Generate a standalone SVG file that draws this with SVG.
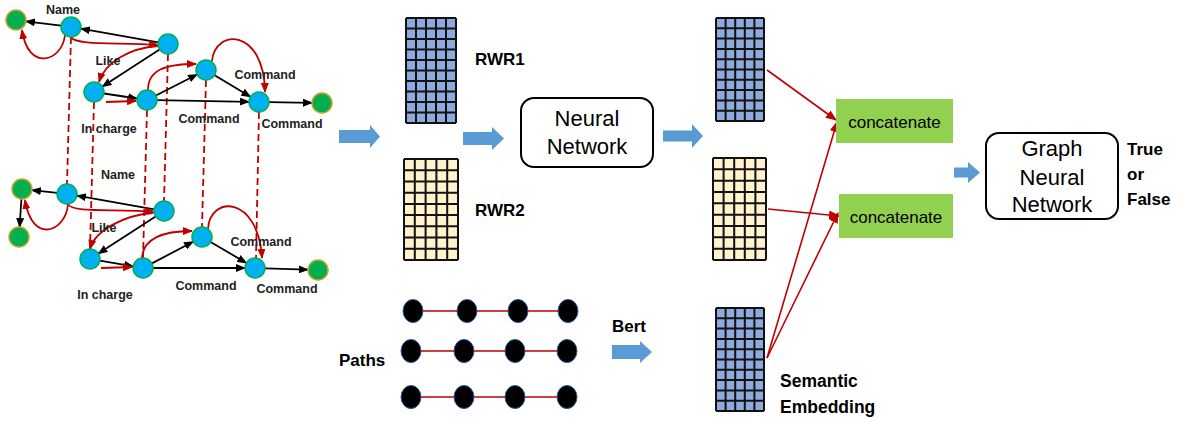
<svg xmlns="http://www.w3.org/2000/svg" xmlns:xlink="http://www.w3.org/1999/xlink" width="1178" height="422" viewBox="0 0 1178 422">
<style>
.bn{fill:#00B0F0;stroke:#00B050;stroke-width:1.5}
.gn{fill:#00B050;stroke:#C9A227;stroke-width:1.5}
.ke{stroke:#000;stroke-width:1.8;fill:none;marker-end:url(#ak)}
.re{stroke:#C00000;stroke-width:1.8;fill:none;marker-end:url(#ar)}
.rd{stroke:#C00000;stroke-width:1.8;fill:none;stroke-dasharray:7 4}
.rl{stroke:#C00000;stroke-width:1.6;fill:none}
.lb{font-family:"Liberation Sans",Arial,sans-serif;font-weight:bold;font-size:12.5px;fill:#222}
.bl{font-family:"Liberation Sans",Arial,sans-serif;font-weight:bold;font-size:17px;fill:#000}
.rg{font-family:"Liberation Sans",Arial,sans-serif;font-size:22px;fill:#000;text-anchor:middle}
.cc{font-family:"Liberation Sans",Arial,sans-serif;font-size:17px;fill:#000;text-anchor:middle}
.ba{fill:#5B9BD5}
.pn{fill:#000;stroke:#2F5597;stroke-width:1}
.box{fill:#fff;stroke:#000;stroke-width:2}
.cat{fill:#92D050}
.ra{stroke:#C00000;stroke-width:1.6;fill:none;marker-end:url(#ar2)}
</style>
<defs>
<marker id="ak" markerUnits="userSpaceOnUse" markerWidth="10" markerHeight="8" refX="9" refY="4" orient="auto"><path d="M0,0 L10,4 L0,8 Z" fill="#000"/></marker>
<marker id="ar" markerUnits="userSpaceOnUse" markerWidth="10" markerHeight="8" refX="9" refY="4" orient="auto"><path d="M0,0 L10,4 L0,8 Z" fill="#C00000"/></marker>
<marker id="ar2" markerUnits="userSpaceOnUse" markerWidth="11" markerHeight="9" refX="10" refY="4.5" orient="auto"><path d="M0,0 L11,4.5 L0,9 Z" fill="#C00000"/></marker>
<symbol id="gB" viewBox="0 0 50 100" preserveAspectRatio="none" overflow="visible">
<rect x="0" y="0" width="50" height="100" fill="#8EA9DB"/>
<path d="M0,0H50M0,10H50M0,20H50M0,30H50M0,40H50M0,50H50M0,60H50M0,70H50M0,80H50M0,90H50M0,100H50M0,0V100M10,0V100M20,0V100M30,0V100M40,0V100M50,0V100" stroke="#111" stroke-width="2" vector-effect="non-scaling-stroke" fill="none"/>
</symbol>
<symbol id="gY" viewBox="0 0 50 90" preserveAspectRatio="none" overflow="visible">
<rect x="0" y="0" width="50" height="90" fill="#FFF2CC"/>
<path d="M0,0H50M0,10H50M0,20H50M0,30H50M0,40H50M0,50H50M0,60H50M0,70H50M0,80H50M0,90H50M0,0V90M10,0V90M20,0V90M30,0V90M40,0V90M50,0V90" stroke="#111" stroke-width="2" vector-effect="non-scaling-stroke" fill="none"/>
</symbol>
</defs>
<rect width="1178" height="422" fill="#fff"/>

<g id="connectors">
<path class="rd" d="M71,37 L67,184"/>
<path class="rd" d="M94,102 L90,249"/>
<path class="rd" d="M147,110 L143,258"/>
<path class="rd" d="M168,54 L164,201"/>
<path class="rd" d="M206,80 L202,227"/>
<path class="rd" d="M259,112 L256,258"/>
<path class="ke" d="M61.1,25.7 L25.9,21.3"/>
<path class="ke" d="M158.2,42.3 L80.9,28.7"/>
<path class="ke" d="M159.6,49.4 L102.4,86.6"/>
<path class="ke" d="M103.9,93.5 L137.1,98.5"/>
<path class="ke" d="M155.9,95.5 L197.1,74.5"/>
<path class="ke" d="M214.6,75.2 L250.4,96.8"/>
<path class="ke" d="M157,100.2 L249,101.8"/>
<path class="ke" d="M269,102.2 L312,102.8"/>
<path class="re" d="M71,37 C76,46 120,42 158,45"/>
<path class="re" d="M65,35 C62,62 28,72 22,30"/>
<path class="re" d="M158,46 C130,48 105,62 99,82"/>
<path class="re" d="M106,102 L136,101"/>
<path class="re" d="M148,90 C148,70 165,64 196,64"/>
<path class="re" d="M212,61 C215,28 264,28 265,92"/>
<path class="ke" d="M57.1,192.9 L31.9,190.1"/>
<path class="ke" d="M21.4,199 L19.6,227"/>
<path class="ke" d="M154.2,209.3 L76.9,195.7"/>
<path class="ke" d="M155.6,216.4 L98.4,253.6"/>
<path class="ke" d="M99.9,260.7 L133.1,266.3"/>
<path class="ke" d="M151.9,263.4 L193.1,241.7"/>
<path class="ke" d="M210.6,242 L246.4,263"/>
<path class="ke" d="M153,268 L245,268"/>
<path class="ke" d="M265,268.3 L308,269.7"/>
<path class="re" d="M68,204 C72,214 120,208 154,212"/>
<path class="re" d="M68,204 C66,232 32,245 25,200"/>
<path class="re" d="M153,213 C125,215 95,230 90,249"/>
<path class="re" d="M101,268 L132,267"/>
<path class="re" d="M142,258 C143,240 160,231 192,231"/>
<path class="re" d="M208,229 C210,195 258,195 262,258"/>
<path class="ba" d="M339,130 L370,130 L370,125 L380,136.5 L370,148 L370,143 L339,143 Z"/>
<path class="ba" d="M463,132 L492,132 L492,127 L504,138.5 L492,150 L492,145 L463,145 Z"/>
<path class="ba" d="M663,130.5 L692,130.5 L692,124 L703,136 L692,148 L692,141.5 L663,141.5 Z"/>
<path class="ba" d="M954,167.5 L968,167.5 L968,162 L980,172.5 L968,183 L968,177.5 L954,177.5 Z"/>
<path class="ba" d="M612,345 L640,345 L640,341 L652,352 L640,363 L640,359 L612,359 Z"/>
<path class="rl" d="M413,311 L568,311"/>
<path class="rl" d="M411,351 L567,351"/>
<path class="rl" d="M411,397 L567,397"/>
<path class="ra" d="M767,70 L836,120"/>
<path class="ra" d="M768,209 L839,216"/>
<path class="ra" d="M767,358 L837,122"/>
<path class="ra" d="M767,358 L838,213"/>
</g>

<g id="graph-top">
<circle class="gn" cx="16" cy="20" r="10"/>
<circle class="bn" cx="71" cy="27" r="10"/>
<circle class="bn" cx="168" cy="44" r="10"/>
<circle class="bn" cx="94" cy="92" r="10"/>
<circle class="bn" cx="147" cy="100" r="10"/>
<circle class="bn" cx="206" cy="70" r="10"/>
<circle class="bn" cx="259" cy="102" r="10"/>
<circle class="gn" cx="322" cy="103" r="10"/>
<text class="lb" x="63" y="13.5" text-anchor="middle">Name</text>
<text class="lb" x="108" y="64.5" text-anchor="middle">Like</text>
<text class="lb" x="265" y="78.5" text-anchor="middle">Command</text>
<text class="lb" x="109" y="132.5" text-anchor="middle">In charge</text>
<text class="lb" x="209" y="122.5" text-anchor="middle">Command</text>
<text class="lb" x="292" y="127.5" text-anchor="middle">Command</text>
</g>

<g id="graph-bottom">
<circle class="gn" cx="22" cy="189" r="10"/>
<circle class="gn" cx="19" cy="237" r="10"/>
<circle class="bn" cx="67" cy="194" r="10"/>
<circle class="bn" cx="164" cy="211" r="10"/>
<circle class="bn" cx="90" cy="259" r="10"/>
<circle class="bn" cx="143" cy="268" r="10"/>
<circle class="bn" cx="202" cy="237" r="10"/>
<circle class="bn" cx="255" cy="268" r="10"/>
<circle class="gn" cx="318" cy="270" r="10"/>
<text class="lb" x="118" y="178.5" text-anchor="middle">Name</text>
<text class="lb" x="104" y="231.5" text-anchor="middle">Like</text>
<text class="lb" x="261" y="245.5" text-anchor="middle">Command</text>
<text class="lb" x="105" y="298.5" text-anchor="middle">In charge</text>
<text class="lb" x="206" y="289.5" text-anchor="middle">Command</text>
<text class="lb" x="287" y="292.5" text-anchor="middle">Command</text>
</g>

<g id="rwr1">
<use href="#gB" x="406" y="18" width="50" height="105"/>
<text class="bl" x="475" y="65">RWR1</text>
</g>
<g id="rwr2">
<use href="#gY" x="404" y="159" width="54" height="101"/>
<text class="bl" x="475" y="216">RWR2</text>
</g>
<g id="neural-network">
<rect class="box" x="521" y="98" width="132" height="69" rx="13"/>
<text class="rg" x="587" y="126">Neural</text>
<text class="rg" x="587" y="154">Network</text>
</g>
<g id="emb1"><use href="#gB" x="716" y="18" width="48" height="103"/></g>
<g id="emb2"><use href="#gY" x="713" y="158" width="53" height="102"/></g>
<g id="semantic">
<use href="#gB" x="716" y="308" width="48" height="103"/>
<text class="bl" x="780" y="387" style="font-size:17.5px">Semantic</text>
<text class="bl" x="780" y="413" style="font-size:17.5px">Embedding</text>
</g>
<g id="paths">
<text class="bl" x="339" y="366">Paths</text>
<ellipse class="pn" cx="413" cy="311" rx="10" ry="11.5"/>
<ellipse class="pn" cx="467" cy="311" rx="10" ry="11.5"/>
<ellipse class="pn" cx="518" cy="311" rx="10" ry="11.5"/>
<ellipse class="pn" cx="568" cy="311" rx="10" ry="11.5"/>
<ellipse class="pn" cx="411" cy="351" rx="10" ry="11.5"/>
<ellipse class="pn" cx="464" cy="351" rx="10" ry="11.5"/>
<ellipse class="pn" cx="515" cy="351" rx="10" ry="11.5"/>
<ellipse class="pn" cx="567" cy="351" rx="10" ry="11.5"/>
<ellipse class="pn" cx="411" cy="397" rx="10" ry="11.5"/>
<ellipse class="pn" cx="464" cy="397" rx="10" ry="11.5"/>
<ellipse class="pn" cx="515" cy="397" rx="10" ry="11.5"/>
<ellipse class="pn" cx="567" cy="397" rx="10" ry="11.5"/>
</g>
<g id="bert"><text class="bl" x="612" y="332">Bert</text></g>
<g id="concat1">
<rect class="cat" x="836" y="99" width="117" height="44"/>
<text class="cc" x="894.5" y="128">concatenate</text>
</g>
<g id="concat2">
<rect class="cat" x="839" y="194" width="114" height="44"/>
<text class="cc" x="896" y="223">concatenate</text>
</g>
<g id="gnn">
<rect class="box" x="986" y="133" width="132" height="86" rx="13"/>
<text class="rg" x="1052" y="156">Graph</text>
<text class="rg" x="1052" y="184.5">Neural</text>
<text class="rg" x="1052" y="212">Network</text>
</g>
<g id="output">
<text class="bl" x="1127" y="155">True</text>
<text class="bl" x="1127" y="180">or</text>
<text class="bl" x="1127" y="205">False</text>
</g>
</svg>
